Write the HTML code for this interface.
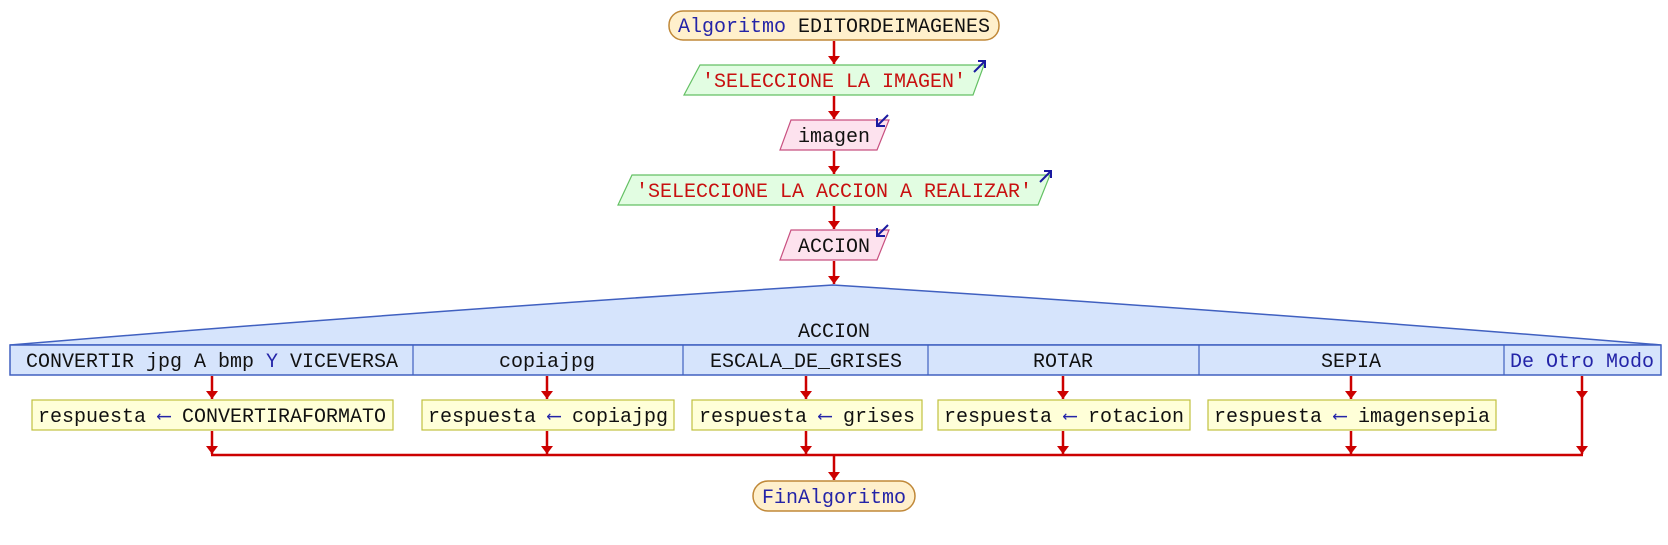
<!DOCTYPE html>
<html><head><meta charset="utf-8"><style>
html,body{margin:0;padding:0;background:#fff;}
svg{display:block;}
text{font-family:"Liberation Mono","DejaVu Sans Mono",monospace;font-size:20px;}
.k{fill:#2424a8}.s{fill:#c81010}.v{fill:#111}
.ar{stroke:#cc0000;stroke-width:2.5;fill:none}
</style></head><body>
<svg width="1668" height="545" viewBox="0 0 1668 545">
<defs>
<marker id="h" markerWidth="12" markerHeight="9" refX="6" refY="8" orient="0" markerUnits="userSpaceOnUse">
<path d="M0,0 L12,0 L6,8 Z" fill="#cc0000"/></marker>
</defs>
<g>
<rect x="669" y="11" width="330" height="29" rx="14" fill="#fff0cc" stroke="#c08838" stroke-width="1.5"/>
<text x="834" y="32" text-anchor="middle"><tspan class="k">Algoritmo</tspan><tspan class="v"> EDITORDEIMAGENES</tspan></text>
</g>
<line class="ar" x1="834" y1="41" x2="834" y2="64" marker-end="url(#h)"/>
<g>
<polygon points="700,65 984,65 973,95 684,95" fill="#e2fde2" stroke="#64c064" stroke-width="1.2"/>
<text x="834" y="87" text-anchor="middle" class="s">'SELECCIONE LA IMAGEN'</text>
<path d="M974,72 L984,62 M978,61 L985,61 L985,68" stroke="#1a1aa0" stroke-width="2" fill="none"/>
</g>
<line class="ar" x1="834" y1="96" x2="834" y2="119" marker-end="url(#h)"/>
<g>
<polygon points="791,120 889,120 877,150 780,150" fill="#fde2ee" stroke="#c85080" stroke-width="1.2"/>
<text x="834" y="142" text-anchor="middle" class="v">imagen</text>
<path d="M888,115 L878,125 M877,118 L877,126 L885,126" stroke="#1a1aa0" stroke-width="2" fill="none"/>
</g>
<line class="ar" x1="834" y1="151" x2="834" y2="174" marker-end="url(#h)"/>
<g>
<polygon points="632,175 1050,175 1038,205 618,205" fill="#e2fde2" stroke="#64c064" stroke-width="1.2"/>
<text x="834" y="197" text-anchor="middle" class="s">'SELECCIONE LA ACCION A REALIZAR'</text>
<path d="M1040,182 L1050,172 M1044,171 L1051,171 L1051,178" stroke="#1a1aa0" stroke-width="2" fill="none"/>
</g>
<line class="ar" x1="834" y1="206" x2="834" y2="229" marker-end="url(#h)"/>
<g>
<polygon points="791,230 889,230 877,260 780,260" fill="#fde2ee" stroke="#c85080" stroke-width="1.2"/>
<text x="834" y="252" text-anchor="middle" class="v">ACCION</text>
<path d="M888,225 L878,235 M877,228 L877,236 L885,236" stroke="#1a1aa0" stroke-width="2" fill="none"/>
</g>
<line class="ar" x1="834" y1="261" x2="834" y2="284" marker-end="url(#h)"/>
<g>
<path d="M10,345 Q420,311 833,285 Q1245,311 1661,345 Z" fill="#d6e4fc" stroke="#4060c0" stroke-width="1.5"/>
<rect x="10" y="345" width="1651" height="30" fill="#d6e4fc" stroke="#4060c0" stroke-width="1.5"/>
<text x="834" y="337" text-anchor="middle" class="v">ACCION</text>
<g stroke="#4060c0" stroke-width="1.2">
<line x1="413" y1="345" x2="413" y2="375"/><line x1="683" y1="345" x2="683" y2="375"/>
<line x1="928" y1="345" x2="928" y2="375"/><line x1="1199" y1="345" x2="1199" y2="375"/>
<line x1="1504" y1="345" x2="1504" y2="375"/>
</g>
<text x="212" y="367" text-anchor="middle" class="v">CONVERTIR jpg A bmp <tspan class="k">Y</tspan> VICEVERSA</text>
<text x="547" y="367" text-anchor="middle" class="v">copiajpg</text>
<text x="806" y="367" text-anchor="middle" class="v">ESCALA_DE_GRISES</text>
<text x="1063" y="367" text-anchor="middle" class="v">ROTAR</text>
<text x="1351" y="367" text-anchor="middle" class="v">SEPIA</text>
<text x="1582" y="367" text-anchor="middle" class="k">De Otro Modo</text>
</g>
<g>
<line class="ar" x1="212" y1="376" x2="212" y2="399" marker-end="url(#h)"/>
<line class="ar" x1="547" y1="376" x2="547" y2="399" marker-end="url(#h)"/>
<line class="ar" x1="806" y1="376" x2="806" y2="399" marker-end="url(#h)"/>
<line class="ar" x1="1063" y1="376" x2="1063" y2="399" marker-end="url(#h)"/>
<line class="ar" x1="1351" y1="376" x2="1351" y2="399" marker-end="url(#h)"/>
<line class="ar" x1="1582" y1="376" x2="1582" y2="399" marker-end="url(#h)"/>
<line class="ar" x1="1582" y1="399" x2="1582" y2="454" marker-end="url(#h)"/>
<line class="ar" x1="212" y1="431" x2="212" y2="454" marker-end="url(#h)"/>
<line class="ar" x1="547" y1="431" x2="547" y2="454" marker-end="url(#h)"/>
<line class="ar" x1="806" y1="431" x2="806" y2="454" marker-end="url(#h)"/>
<line class="ar" x1="1063" y1="431" x2="1063" y2="454" marker-end="url(#h)"/>
<line class="ar" x1="1351" y1="431" x2="1351" y2="454" marker-end="url(#h)"/>
<line class="ar" x1="211" y1="455" x2="1583" y2="455"/>
<line class="ar" x1="834" y1="455" x2="834" y2="480" marker-end="url(#h)"/>
</g>
<g><rect x="32" y="400" width="361" height="30" fill="#ffffd8" stroke="#c0c040" stroke-width="1.2"/>
<text x="212" y="422" text-anchor="middle" class="v">respuesta <tspan class="k">&#10229;</tspan> CONVERTIRAFORMATO</text></g>
<g><rect x="422" y="400" width="252" height="30" fill="#ffffd8" stroke="#c0c040" stroke-width="1.2"/>
<text x="548" y="422" text-anchor="middle" class="v">respuesta <tspan class="k">&#10229;</tspan> copiajpg</text></g>
<g><rect x="692" y="400" width="230" height="30" fill="#ffffd8" stroke="#c0c040" stroke-width="1.2"/>
<text x="807" y="422" text-anchor="middle" class="v">respuesta <tspan class="k">&#10229;</tspan> grises</text></g>
<g><rect x="938" y="400" width="252" height="30" fill="#ffffd8" stroke="#c0c040" stroke-width="1.2"/>
<text x="1064" y="422" text-anchor="middle" class="v">respuesta <tspan class="k">&#10229;</tspan> rotacion</text></g>
<g><rect x="1208" y="400" width="288" height="30" fill="#ffffd8" stroke="#c0c040" stroke-width="1.2"/>
<text x="1352" y="422" text-anchor="middle" class="v">respuesta <tspan class="k">&#10229;</tspan> imagensepia</text></g>
<g>
<rect x="753" y="481" width="162" height="30" rx="15" fill="#fff0cc" stroke="#c08838" stroke-width="1.5"/>
<text x="834" y="503" text-anchor="middle" class="k">FinAlgoritmo</text>
</g>
</svg>
</body></html>
